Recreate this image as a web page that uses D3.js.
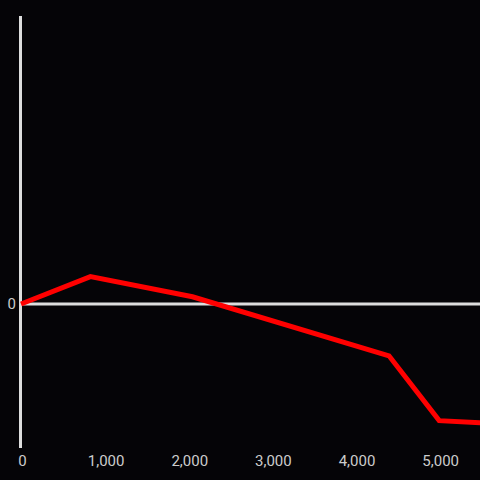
<!DOCTYPE html>
<html><head><meta charset="utf-8">
<script src="https://cdn.jsdelivr.net/npm/d3@7"></script>
<style>html,body{margin:0;padding:0;background:#050407;}svg{display:block;}</style>
</head><body>
<svg id="c" width="480" height="480"></svg>
<script>
const xValues = [0, 830, 2050, 4400, 5000, 5500];
const yValues = [0, 19, 5, -36, -81, -82.5];
const xTicks = [0, 1000, 2000, 3000, 4000, 5000];
const yTicks = [0];

const svg = d3.select("#c");
svg.append("rect").attr("width",480).attr("height",480).attr("fill","#050407");
const x = d3.scaleLinear().domain([0,5500]).range([21,481]);
const y = d3.scaleLinear().domain([-100,200]).range([448,16]);

svg.append("line").attr("x1",20.5).attr("x2",20.5).attr("y1",16).attr("y2",448)
  .attr("stroke","#dddddd").attr("stroke-width",3);
svg.append("line").attr("x1",20).attr("x2",480).attr("y1",y(0)).attr("y2",y(0))
  .attr("stroke","#dddddd").attr("stroke-width",3);

svg.selectAll("text.xt").data(xTicks).enter().append("text")
  .attr("x",d=>x(d)+1.5).attr("y",466)
  .attr("text-anchor","middle").attr("fill","#cccccc")
  .attr("font-family","Roboto, sans-serif").attr("font-size",15)
  .text(d=>d3.format(",")(d));
svg.selectAll("text.yt").data(yTicks).enter().append("text")
  .attr("x",16).attr("y",d=>y(d)+5)
  .attr("text-anchor","end").attr("fill","#cccccc")
  .attr("font-family","Roboto, sans-serif").attr("font-size",15)
  .text(d=>d);

const pts = xValues.map((v,i)=>[v,yValues[i]]);
svg.append("path").datum(pts)
  .attr("d", d3.line().x(d=>x(d[0])).y(d=>y(d[1])))
  .attr("fill","none").attr("stroke","#ff0000").attr("stroke-width",5)
  .attr("stroke-linejoin","miter");
</script>
</body></html>
